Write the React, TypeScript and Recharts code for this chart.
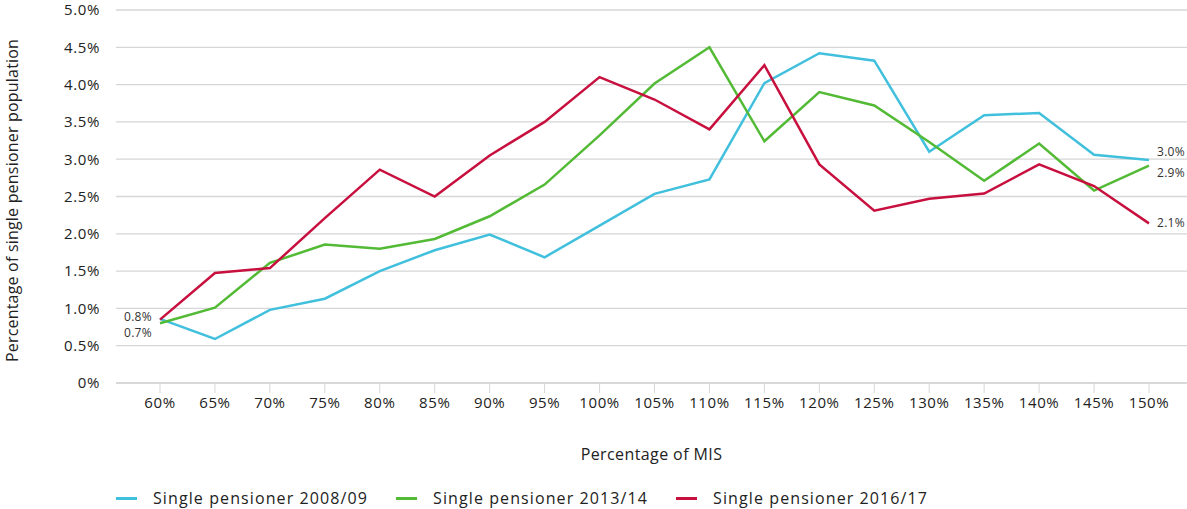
import React from 'react';
import { LineChart, Line, XAxis, YAxis, CartesianGrid, Legend, Label } from 'recharts';

const categories = ['60%', '65%', '70%', '75%', '80%', '85%', '90%', '95%', '100%', '105%', '110%', '115%', '120%', '125%', '130%', '135%', '140%', '145%', '150%'];
const s2008 = [0.86, 0.59, 0.98, 1.13, 1.5, 1.78, 1.99, 1.685, 2.11, 2.535, 2.73, 4.02, 4.42, 4.32, 3.1, 3.59, 3.62, 3.06, 2.99];
const s2013 = [0.8, 1.01, 1.61, 1.855, 1.8, 1.93, 2.235, 2.66, 3.32, 4.015, 4.5, 3.24, 3.9, 3.72, 3.23, 2.71, 3.21, 2.58, 2.915];
const s2016 = [0.85, 1.475, 1.54, 2.21, 2.86, 2.5, 3.05, 3.5, 4.1, 3.8, 3.4, 4.26, 2.93, 2.31, 2.47, 2.54, 2.93, 2.64, 2.14];
const yTicks = [0, 0.5, 1, 1.5, 2, 2.5, 3, 3.5, 4, 4.5, 5];
const seriesNames = ['Single pensioner 2008/09', 'Single pensioner 2013/14', 'Single pensioner 2016/17'];
const startLabels = ['', '0.7%', '0.8%'];
const endLabels = ['3.0%', '2.9%', '2.1%'];

const colors = ['#41C0DD', '#52BA35', '#C8103F'];
const keys = ['a', 'b', 'c'];
const startDy = [0, 10, -2];
const endDy = [-7, 8, 0];

const data = categories.map((c, i) => ({ cat: c, a: s2008[i], b: s2013[i], c: s2016[i] }));

const FONT = '"Open Sans", sans-serif';

const makeLabel = (si: number) => (props: any) => {
  const { x, y, index } = props;
  if (index === 0 && startLabels[si]) {
    return (
      <text key={`s${si}`} x={x - 8} y={y + startDy[si]} textAnchor="end" dominantBaseline="middle" fontSize={12} fill="#333" fontFamily={FONT} letterSpacing={0.3}>
        {startLabels[si]}
      </text>
    );
  }
  if (index === categories.length - 1) {
    return (
      <text key={`e${si}`} x={x + 8} y={y + endDy[si]} textAnchor="start" dominantBaseline="middle" fontSize={12} fill="#333" fontFamily={FONT} letterSpacing={0.3}>
        {endLabels[si]}
      </text>
    );
  }
  return null;
};

const LegendContent = () => (
  <div style={{ display: 'flex', alignItems: 'center', fontFamily: FONT, fontSize: 16, color: '#222', letterSpacing: 1.1, whiteSpace: 'nowrap' }}>
    {seriesNames.map((n, i) => (
      <div key={n} style={{ display: 'flex', alignItems: 'center', marginRight: 28 }}>
        <div style={{ width: 21, height: 3, background: colors[i], marginRight: 16 }} />
        <span>{n}</span>
      </div>
    ))}
  </div>
);

const YTitle = (props: any) => {
  const { viewBox } = props;
  const cx = 14;
  const cy = viewBox.y + viewBox.height / 2 + 4;
  return (
    <text x={cx} y={cy} transform={`rotate(-90, ${cx}, ${cy})`} textAnchor="middle" dominantBaseline="middle" fontSize={16} fill="#222" fontFamily={FONT} letterSpacing={0.2}>
      Percentage of single pensioner population
    </text>
  );
};

export default function App() {
  return (
    <div style={{ position: 'absolute', left: 0, top: 0, width: 1187, height: 509, background: '#fff' }}>
      <LineChart width={1187} height={509} data={data} margin={{ top: 10, right: 0, left: 0, bottom: 46 }}>
        <CartesianGrid vertical={false} stroke="#d6d6d6" strokeWidth={1.3} />
        <XAxis
          dataKey="cat"
          height={80}
          padding={{ left: 44, right: 38 }}
          tickSize={10}
          tickMargin={4}
          tickLine={{ stroke: '#d6d6d6' }}
          axisLine={{ stroke: '#d6d6d6', strokeWidth: 1.3 }}
          tick={{ fontSize: 15, fill: '#222', fontFamily: FONT, letterSpacing: 0.6 }}
          interval={0}
        >
          <Label value="Percentage of MIS" position="insideBottom" offset={3} style={{ fontSize: 16, fill: '#222', fontFamily: FONT, letterSpacing: 0.4 }} />
        </XAxis>
        <YAxis
          width={116}
          domain={[0, 5]}
          ticks={yTicks}
          tickFormatter={(v: number) => (v === 0 ? '0%' : `${v.toFixed(1)}%`)}
          axisLine={false}
          tickLine={false}
          tickSize={6}
          tickMargin={10}
          tick={{ fontSize: 15, fill: '#222', fontFamily: FONT, letterSpacing: 0.6 }}
        >
          <Label content={YTitle} />
        </YAxis>
        <Legend
          verticalAlign="middle"
          align="center"
          content={LegendContent}
          wrapperStyle={{ top: 487, left: 116, width: 1000, height: 22 }}
        />
        {keys.map((k, i) => (
          <Line
            key={k}
            type="linear"
            dataKey={k}
            name={seriesNames[i]}
            stroke={colors[i]}
            strokeWidth={2.5}
            dot={false}
            activeDot={false}
            isAnimationActive={false}
            label={makeLabel(i)}
          />
        ))}
      </LineChart>
    </div>
  );
}
